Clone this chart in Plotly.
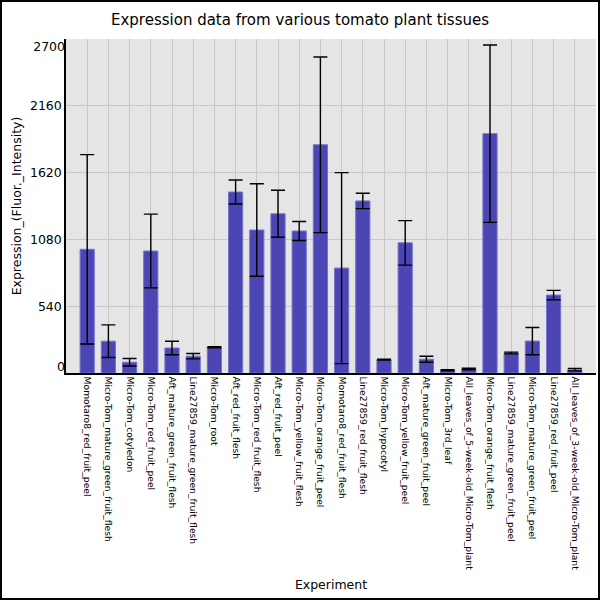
import plotly.graph_objects as go

# Tissue / experiment names, in the order shown on the x axis
experiments = [
    "Momotaro8_red_fruit_peel",
    "Micro-Tom_mature_green_fruit_flesh",
    "Micro-Tom_cotyledon",
    "Micro-Tom_red_fruit_peel",
    "Aft_mature_green_fruit_flesh",
    "Line27859_mature_green_fruit_flesh",
    "Micro-Tom_root",
    "Aft_red_fruit_flesh",
    "Micro-Tom_red_fruit_flesh",
    "Aft_red_fruit_peel",
    "Micro-Tom_yellow_fruit_flesh",
    "Micro-Tom_orange_fruit_peel",
    "Momotaro8_red_fruit_flesh",
    "Line27859_red_fruit_flesh",
    "Micro-Tom_hypocotyl",
    "Micro-Tom_yellow_fruit_peel",
    "Aft_mature_green_fruit_peel",
    "Micro-Tom_3rd_leaf",
    "All_leaves_of_5-week-old_Micro-Tom_plant",
    "Micro-Tom_orange_fruit_flesh",
    "Line27859_mature_green_fruit_peel",
    "Micro-Tom_mature_green_fruit_peel",
    "Line27859_red_fruit_peel",
    "All_leaves_of_3-week-old_Micro-Tom_plant",
]

# mean expression (fluor. intensity)
expression = [1000, 257, 87, 986, 202, 136, 208, 1463, 1156, 1287, 1148, 1845,
              848, 1391, 108, 1052, 111, 22, 32, 1935, 162, 258, 630, 27]

# +/- error
errors = [765, 132, 30, 298, 55, 22, 5, 97, 374, 190, 77, 710,
          772, 62, 3, 180, 24, 5, 6, 717, 7, 110, 38, 10]

y_ticks = [0, 540, 1080, 1620, 2160, 2700]

FONT = "DejaVu Sans"

fig = go.Figure()
fig.add_trace(go.Bar(
    x=experiments, y=expression,
    marker=dict(color="rgb(75,70,180)", line=dict(color="rgb(118,115,202)", width=1)),
    error_y=dict(type="data", array=errors, visible=True,
                 color="black", thickness=1.4, width=7),
    showlegend=False,
))
# empty traces so the overlay axes carrying the end labels get drawn
fig.add_trace(go.Scatter(x=[], y=[], yaxis="y2", showlegend=False))
fig.add_trace(go.Scatter(x=[], y=[], yaxis="y3", showlegend=False))

W, H = 600, 600
L, R, T, B = 66, 4, 39, 227
pw, ph = W - L - R, H - T - B

end_axis = dict(overlaying="y", anchor="x", side="left", range=[0, 2700],
                tickmode="array", tickfont=dict(size=12.5, family=FONT),
                showgrid=False, zeroline=False, showline=False, ticks="",
                automargin=False)

fig.update_layout(
    width=W, height=H,
    margin=dict(l=L, r=R, t=T, b=B),
    paper_bgcolor="white", plot_bgcolor="rgb(229,229,229)",
    font=dict(family=FONT, color="black"),
    bargap=0.33,
    title=dict(text="Expression data from various tomato plant tissues",
               x=0.5, xanchor="center", y=1 - 20 / H, yanchor="middle",
               font=dict(size=15, family=FONT, color="black")),
    xaxis=dict(
        type="category", range=[-1, len(experiments)],
        tickangle=90, tickfont=dict(size=9.2, family=FONT),
        showgrid=True, gridcolor="rgb(200,200,200)", gridwidth=1,
        showline=True, linecolor="black", linewidth=1.5,
        ticks="", zeroline=False, automargin=False,
        title=dict(text="Experiment", font=dict(size=12.5, family=FONT), standoff=11),
    ),
    yaxis=dict(
        range=[0, 2700], tickmode="array", tickvals=y_ticks,
        ticktext=[""] + [str(v) for v in y_ticks[1:-1]] + [""],
        tickfont=dict(size=12.5, family=FONT),
        showgrid=True, gridcolor="rgb(200,200,200)", gridwidth=1,
        showline=True, linecolor="black", linewidth=1.5,
        ticks="", zeroline=False, automargin=False,
        title=dict(text="Expression_(Fluor._Intensity)", font=dict(size=12.5, family=FONT), standoff=6),
    ),
    yaxis2=dict(end_axis, tickvals=[y_ticks[0]], ticktext=[str(y_ticks[0])], ticklabelshift=-6),
    yaxis3=dict(end_axis, tickvals=[y_ticks[-1]], ticktext=[str(y_ticks[-1])], ticklabelshift=8),
    shapes=[dict(
        type="rect", xref="paper", yref="paper",
        x0=(1 - L) / pw, x1=(W - L - 1) / pw,
        y0=(T + ph - H + 1) / ph, y1=(T + ph - 1) / ph,
        line=dict(color="black", width=2), fillcolor="rgba(0,0,0,0)",
    )],
)

fig.write_html("out.html", config={"displayModeBar": False},
               post_script="document.body.style.margin = '0';")
